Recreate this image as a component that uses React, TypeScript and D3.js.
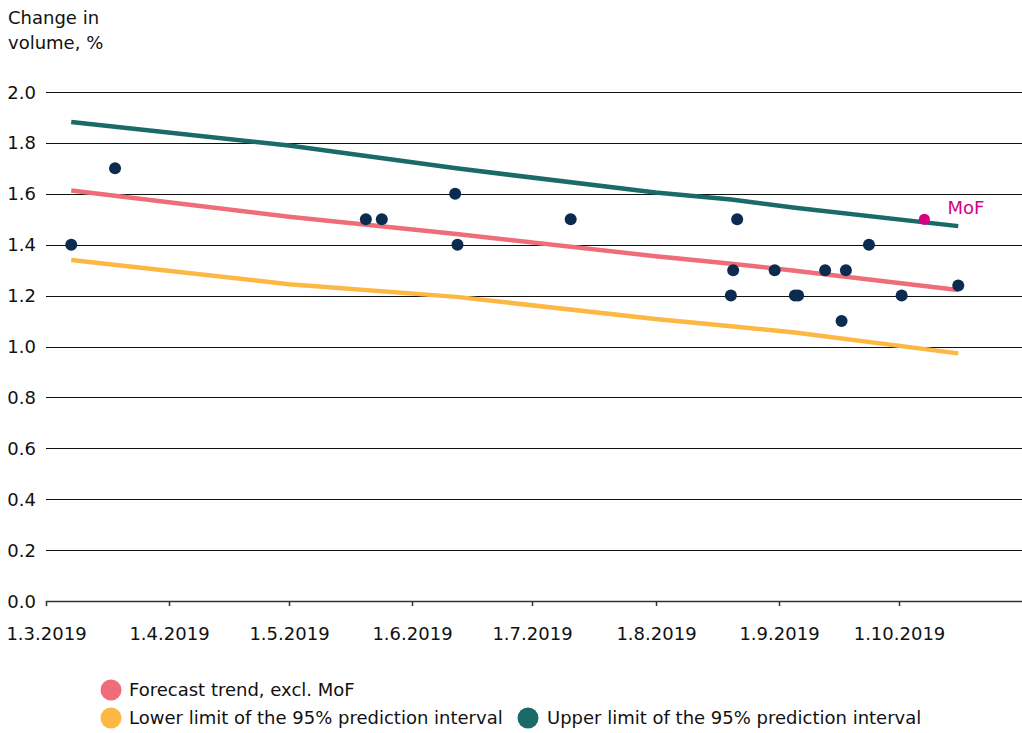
import React from "react";
import * as d3 from "d3";

const yTicks = [0, 0.2, 0.4, 0.6, 0.8, 1.0, 1.2, 1.4, 1.6, 1.8, 2.0];
const xTickDates = ["2019-03-01T00", "2019-04-01T00", "2019-05-01T00", "2019-06-01T00", "2019-07-01T00", "2019-08-01T00", "2019-09-01T00", "2019-10-01T00"];
const xTickLabels = ["1.3.2019", "1.4.2019", "1.5.2019", "1.6.2019", "1.7.2019", "1.8.2019", "1.9.2019", "1.10.2019"];

const pointDates = ["2019-03-07T08", "2019-03-18T08", "2019-05-20T07", "2019-05-24T07", "2019-06-11T17", "2019-06-12T07", "2019-07-10T17", "2019-08-19T22", "2019-08-20T12", "2019-08-21T12", "2019-08-30T22", "2019-09-05T00", "2019-09-05T19", "2019-09-12T14", "2019-09-16T17", "2019-09-17T19", "2019-09-23T14", "2019-10-01T19", "2019-10-16T00"];
const pointValues = [1.4, 1.7, 1.5, 1.5, 1.6, 1.4, 1.5, 1.2, 1.3, 1.5, 1.3, 1.2, 1.2, 1.3, 1.1, 1.3, 1.4, 1.2, 1.24];

const mofDate = "2019-10-07T12";
const mofValue = 1.5;

const lineDates = ["2019-03-07T08", "2019-05-01T00", "2019-06-12T00", "2019-08-01T00", "2019-08-20T00", "2019-09-05T00", "2019-10-16T00"];
const upperValues = [1.882, 1.79, 1.70, 1.605, 1.578, 1.545, 1.473];
const trendValues = [1.613, 1.51, 1.442, 1.355, 1.325, 1.298, 1.222];
const lowerValues = [1.34, 1.245, 1.195, 1.108, 1.08, 1.055, 0.973];

const legendItems = ["Forecast trend, excl. MoF", "Lower limit of the 95% prediction interval", "Upper limit of the 95% prediction interval"];

const C = {
  upper: "#1b6a6a",
  trend: "#ef6c79",
  lower: "#fcb843",
  dot: "#0c2b50",
  mof: "#d5007f",
};

const parse = d3.timeParse("%Y-%m-%dT%H");

export default function App() {
  const W = 1022, H = 733;
  const x = d3.scaleTime().domain([parse("2019-03-01T00")!, parse("2019-11-01T00")!]).range([46, 1022]);
  const y = d3.scaleLinear().domain([0, 2]).range([601, 92]);
  const line = d3.line<[string, number]>().x(d => x(parse(d[0])!)).y(d => y(d[1]));
  const mk = (vals: number[]) => line(lineDates.map((d, i) => [d, vals[i]] as [string, number])) || "";
  const font = "'DejaVu Sans', sans-serif";
  const fs = 18;
  return (
    <svg width={W} height={H} style={{ position: "absolute", left: 0, top: 0, fontFamily: font }}>
      <text x={8} y={24} fontSize={fs} fill="#111">Change in</text>
      <text x={8} y={49} fontSize={fs} fill="#111">volume, %</text>
      {yTicks.map(t => (
        <g key={t}>
          <line x1={46} x2={1022} y1={Math.round(y(t)) + 0.5} y2={Math.round(y(t)) + 0.5} stroke={t === 0 ? "#333" : "#111"} strokeWidth={t === 0 ? 1.5 : 1} />
          <text x={36} y={y(t) + 6.5} fontSize={fs} textAnchor="end" fill="#111">{t.toFixed(1)}</text>
        </g>
      ))}
      {xTickDates.map((d, i) => {
        const px = Math.round(x(parse(d)!)) + 0.5;
        return (
          <g key={d}>
            <line x1={px} x2={px} y1={601} y2={606} stroke="#333" strokeWidth={1.5} />
            <text x={px} y={640} fontSize={fs} textAnchor="middle" fill="#111">{xTickLabels[i]}</text>
          </g>
        );
      })}
      <path d={mk(upperValues)} fill="none" stroke={C.upper} strokeWidth={4.5} />
      <path d={mk(lowerValues)} fill="none" stroke={C.lower} strokeWidth={4.5} />
      <path d={mk(trendValues)} fill="none" stroke={C.trend} strokeWidth={4.5} />
      {pointDates.map((d, i) => (
        <circle key={i} cx={x(parse(d)!)} cy={y(pointValues[i])} r={6} fill={C.dot} />
      ))}
      <circle cx={x(parse(mofDate)!)} cy={y(mofValue)} r={5.5} fill={C.mof} />
      <text x={x(parse(mofDate)!) + 23} y={y(mofValue) - 5} fontSize={fs} fill={C.mof}>MoF</text>
      <g fontSize={fs} fill="#111">
        <circle cx={111} cy={690} r={10.5} fill={C.trend} />
        <text x={129} y={696}>{legendItems[0]}</text>
        <circle cx={111} cy={718} r={10.5} fill={C.lower} />
        <text x={129} y={724}>{legendItems[1]}</text>
        <circle cx={528} cy={718} r={10.5} fill={C.upper} />
        <text x={547} y={724}>{legendItems[2]}</text>
      </g>
    </svg>
  );
}
